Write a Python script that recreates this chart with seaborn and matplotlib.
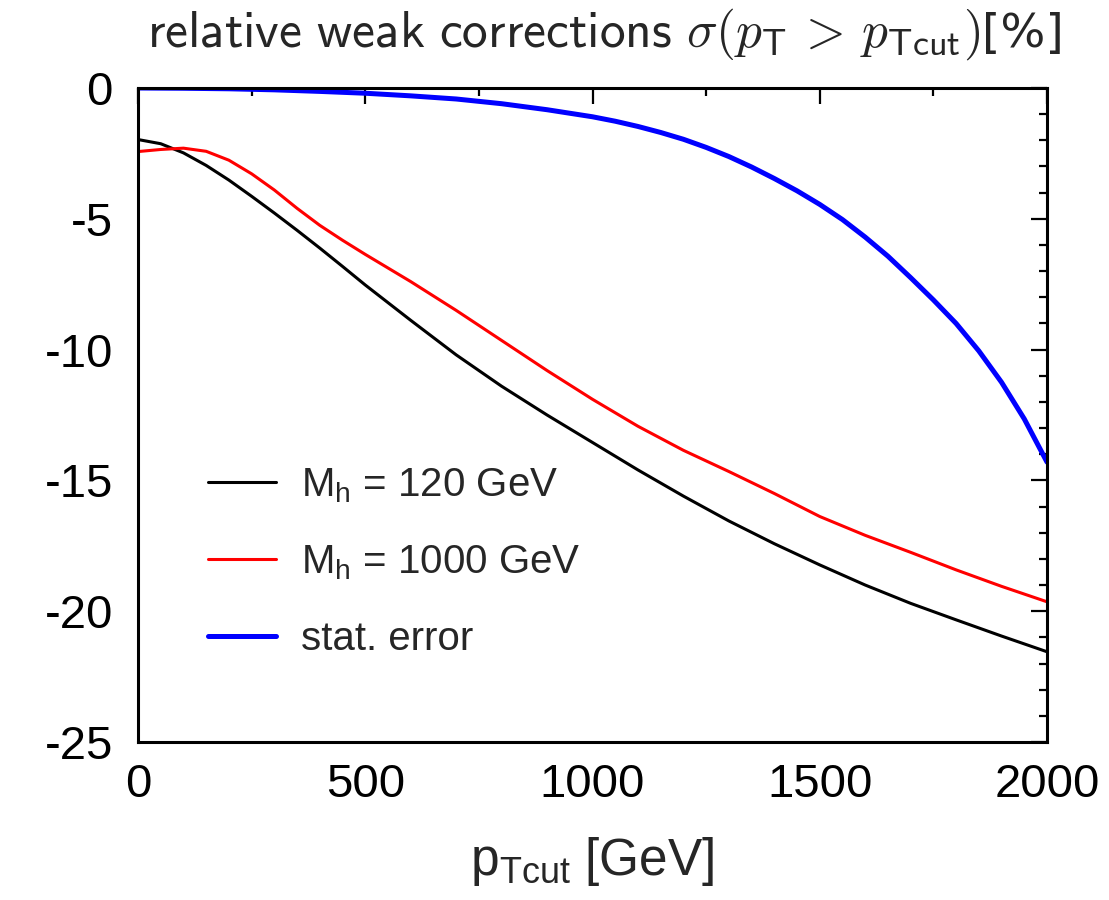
import numpy as np
import pandas as pd
import matplotlib
matplotlib.use("Agg")
import matplotlib.pyplot as plt
import seaborn as sns
from matplotlib.ticker import MultipleLocator
from matplotlib.font_manager import FontProperties

# ---- data ----
pt_cut = [0, 50, 100, 150, 200, 250, 300, 350, 400, 450, 500, 600, 700, 800,
          900, 1000, 1100, 1200, 1300, 1400, 1500, 1600, 1700, 1800, 1900, 2000]
mh120 = [-1.97, -2.13, -2.48, -2.96, -3.52, -4.14, -4.78, -5.44, -6.12, -6.82,
         -7.53, -8.88, -10.2, -11.4, -12.5, -13.55, -14.6, -15.6, -16.55,
         -17.42, -18.23, -19.0, -19.7, -20.33, -20.95, -21.55]
mh1000 = [-2.43, -2.35, -2.3, -2.42, -2.76, -3.28, -3.9, -4.6, -5.25, -5.82,
          -6.36, -7.4, -8.5, -9.65, -10.8, -11.9, -12.93, -13.85, -14.66,
          -15.5, -16.38, -17.1, -17.75, -18.42, -19.05, -19.64]
pt_cut_stat = [0, 100, 200, 300, 400, 500, 600, 700, 800, 900, 1000, 1050,
               1100, 1150, 1200, 1250, 1300, 1350, 1400, 1450, 1500, 1550,
               1600, 1650, 1700, 1750, 1800, 1850, 1900, 1950, 2000]
stat_err = [0.0, -0.01, -0.03, -0.07, -0.13, -0.2, -0.3, -0.42, -0.6, -0.83,
            -1.1, -1.27, -1.47, -1.7, -1.96, -2.27, -2.62, -3.02, -3.46, -3.93,
            -4.45, -5.03, -5.7, -6.43, -7.25, -8.1, -9.0, -10.05, -11.25,
            -12.65, -14.3]
labels = [r"M$_{\mathrm{h}}$ = 120 GeV", r"M$_{\mathrm{h}}$ = 1000 GeV", "stat. error"]
colors = ["#000000", "#ff0000", "#0000ff"]
widths = [2.2, 2.2, 3.6]
xticks = [0, 500, 1000, 1500, 2000]
yticks = [0, -5, -10, -15, -20, -25]

sns.set_style("white")
plt.rcParams["font.family"] = ["Liberation Sans", "DejaVu Sans"]
plt.rcParams["axes.unicode_minus"] = False
plt.rcParams["mathtext.fontset"] = "custom"
plt.rcParams["mathtext.rm"] = "Liberation Sans"
plt.rcParams["mathtext.it"] = "Liberation Sans:italic"
plt.rcParams["mathtext.sf"] = "Liberation Sans"

fig = plt.figure(figsize=(11.09, 9.0), dpi=100)
ax = fig.add_axes([138 / 1109, 1 - 742 / 900, (1047 - 138) / 1109, (742 - 88) / 900])

xs = [pt_cut, pt_cut, pt_cut_stat]
series = [mh120, mh1000, stat_err]
for x, vals, lab, c, w in zip(xs, series, labels, colors, widths):
    df = pd.DataFrame({"pt": x, "val": vals})
    sns.lineplot(data=df, x="pt", y="val", color=c, linewidth=w, label=lab, ax=ax)

ax.set_xlim(0, 2000)
ax.set_ylim(-25, 0)
ax.set_xticks(xticks)
ax.set_yticks(yticks)
ax.set_xticklabels([str(t) for t in xticks])
ax.set_yticklabels([str(t) for t in yticks])
ax.xaxis.set_minor_locator(MultipleLocator(250))
ax.yaxis.set_minor_locator(MultipleLocator(1))
ax.tick_params(which="both", direction="in", top=True, right=True, width=1.6, colors="black")
ax.tick_params(which="major", length=11.5, labelsize=34)
ax.tick_params(which="minor", length=5.5)
ax.tick_params(axis="y", which="major", pad=18)
ax.tick_params(axis="x", which="major", pad=15)
for s in ax.spines.values():
    s.set_linewidth(2.2)
    s.set_color("black")

ax.set_xlabel(r"p$_{\mathrm{Tcut}}$ [GeV]", fontsize=37, labelpad=20)
ax.set_ylabel("")

leg = ax.legend(loc="center left", bbox_to_anchor=(0.077, 0.275), frameon=False,
                borderpad=0, borderaxespad=0, handlelength=1.7, handletextpad=0.6,
                labelspacing=0.95, prop=FontProperties(family="Liberation Sans", size=29))

# title: main part in Computer Modern (sans text + math), "[%]" in a sans font
t_main = fig.text(0, 1 - 47 / 900,
                  r"$\mathsf{relative\ weak\ corrections}\ \sigma(p_\mathsf{T}\,>\,p_\mathsf{Tcut})$",
                  ha="left", va="baseline", fontsize=37, math_fontfamily="cm")
t_pct = fig.text(0, 1 - 47 / 900, "[%]", ha="left", va="baseline", fontsize=34,
                 family=["DejaVu Sans"])
fig.canvas.draw()
r = fig.canvas.get_renderer()
w1 = t_main.get_window_extent(r).width
w2 = t_pct.get_window_extent(r).width
W = fig.bbox.width
start = 604 - (w1 + w2) / 2
t_main.set_x(start / W)
t_pct.set_x((start + w1 + 2) / W)

fig.savefig("out.png", dpi=100)
